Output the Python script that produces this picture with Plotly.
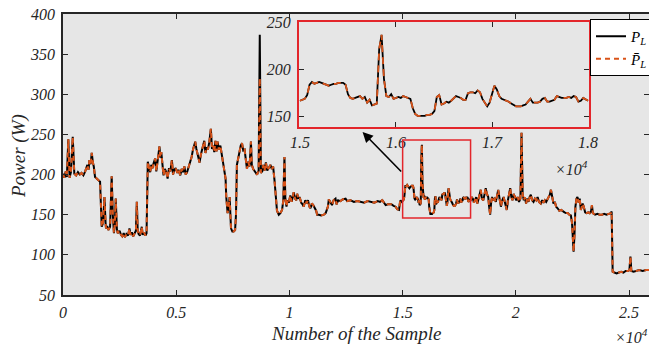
import plotly.graph_objects as go

# ---------------- data ----------------
# main series, part A (sample index, power W)
S_A = [0,60,120,170,235,290,350,430,500,580,660,740,820,900,980,1040,1075,1130,1165,1220,1270,1320,1360,1415,1500,1560,1637,1690,1710,1770,1830,1880,1900,1950,2000,2080,2150,2200,2250,2290,2330,2380,2420,2500,2560,2620,2680,2740,2800,2870,2935,2980,3040,3100,3160,3220,3260,3300,3340,3400,3480,3520,3580,3640,3690,3745,3800,3850,3900,3950,4000,4070,4120,4180,4220,4260,4300,4340,4400,4440,4500,4560,4620,4680,4740,4810,4860,4920,4980,5050,5100,5180,5240,5300,5360,5420,5480,5560,5620,5680,5740,5790,5840,5890,5940,6030,6090,6140,6200,6240,6290,6350,6400,6460,6530,6580,6630,6680,6730,6780,6830,6880,6950,7000,7065,7130,7180,7210,7270,7320,7360,7400,7420,7480,7535,7600,7640,7680,7740,7800,7850,7905,7960,8020,8080,8125,8180,8240,8300,8340,8400,8470,8520,8570,8640,8690,8740,8800,8850,8900,8960,9020,9080,9160,9220,9280,9340,9400,9450,9530,9600,9675,9730,9780,9820,9870,9920,9970,10040,10100,10190,10250,10300,10340,10400,10450,10520,10580,10630,10700,10760,10820,10880,10930,10990,11050,11120,11180,11225,11300,11400,11520,11600,11700,11740,11800,11880,11950,12035,12080,12150,12250,12350,12480,12550,12700,12850,13000,13150,13300,13450,13600,13750,13900,14000,14100,14200,14250,14350,14500,14600,14690,14760,14840,14880,14910,14960]
P_A = [201,196,204,197,244,196,203,247,201,199,203,200,202,199,204,208,212,206,218,213,227,215,210,197,195,194,191,150,135,140,172,140,133,136,131,135,198,150,127,140,170,132,127,130,125,123,127,122,126,124,133,125,128,123,126,130,166,130,126,124,135,125,128,124,127,216,208,203,212,208,214,220,204,222,226,235,221,228,210,199,207,203,195,208,204,218,200,206,208,202,206,199,207,203,210,200,203,210,216,222,231,236,241,232,225,215,225,232,238,242,227,234,231,240,257,232,236,228,242,229,241,231,236,226,218,204,195,172,152,162,172,145,133,129,129,131,150,212,222,229,236,239,230,231,215,207,216,210,241,212,207,204,202,200,205,374,202,204,212,205,215,205,208,212,207,210,193,165,155,150,152,156,168,222,170,160,168,165,174,166,178,170,168,176,170,172,165,163,160,168,164,168,160,158,164,162,158,155,150,150,149,150,152,160,169,166,162,168,170,163,168,167,169,170,167,168,166,167,166,165,167,166,165,167,166,168,164,162,163,163,161,160,157,156,165,168,166]

# zoomed window 1.5e4 .. 1.8e4 (every 25 samples)
S_FINE = list(range(15000, 18001, 25))
P_FINE = [167,168,169,173,184,187,185,186,187,186,185,184,183,184,185,185,186,186,186,184,
          174,170,169,170,171,172,169,171,165,168,162,163,164,222,237,190,172,171,174,169,
          170,171,170,172,171,170,169,159,153,151,151,151,151,152,152,153,156,171,173,163,
          164,166,165,167,169,172,171,170,168,168,175,176,176,175,178,176,169,165,161,165,
          174,183,179,172,169,168,167,166,164,162,161,161,161,162,163,166,169,165,165,165,
          166,169,170,166,166,167,168,172,171,170,170,170,171,170,172,171,166,167,170,168,167]

# main series, part B
S_B = [18050,18100,18150,18200,18250,18300,18370,18450,18500,18560,18620,18670,18720,18780,18820,18865,18910,18950,19000,19060,19115,19170,19220,19280,19340,19400,19460,19520,19560,19600,19650,19700,19750,19800,19850,19900,19960,20020,20080,20140,20200,20250,20300,20350,20400,20450,20500,20560,20610,20660,20720,20780,20840,20900,20960,21020,21100,21160,21220,21280,21340,21400,21460,21500,21550,21600,21660,21720,21780,21845,21920,22000,22080,22150,22220,22290,22360,22430,22480,22520,22550,22590,22630,22680,22720,22770,22820,22870,22950,23000,23060,23120,23200,23260,23320,23360,23400,23500,23600,23700,23800,23900,24000,24100,24200,24230,24275,24350,24450,24550,24650,24750,24850,24950,25015,25060,25100,25200,25300,25450,25600,25750,25900,26000]
P_B = [172,170,165,170,172,164,172,181,170,168,176,183,176,172,160,150,166,172,168,170,166,174,181,170,160,168,172,165,160,156,168,175,183,172,168,176,172,168,172,166,170,252,176,168,172,164,170,166,172,175,168,166,170,168,172,166,164,168,165,168,166,170,172,175,181,170,164,166,160,158,155,156,154,153,152,152,150,149,140,115,104,125,160,170,172,165,170,156,164,160,153,152,153,152,154,162,152,150,151,150,150,151,150,151,152,154,79,78,77,78,79,78,80,80,81,98,80,79,80,81,80,81,81,80]

# estimate differs visibly only at the big spike
EST_OVERRIDE = {8690: 320}

X_TICKS = [0, 5000, 10000, 15000, 20000, 25000]
X_TICK_TEXT = ["0", "0.5", "1", "1.5", "2", "2.5"]
Y_TICKS = [50, 100, 150, 200, 250, 300, 350, 400]
INSET_X_TICKS = [15000, 16000, 17000, 18000]
INSET_X_TEXT = ["1.5", "1.6", "1.7", "1.8"]
INSET_Y_TICKS = [150, 200, 250]

assert len(S_A) == len(P_A) and len(S_B) == len(P_B) and len(S_FINE) == len(P_FINE)

S_MAIN = S_A + S_FINE + S_B
P_MAIN = P_A + P_FINE + P_B
P_EST = [EST_OVERRIDE.get(s, p) for s, p in zip(S_MAIN, P_MAIN)]

# ---------------- style ----------------
FONT = "Liberation Serif"
ORANGE = "#D95319"
RED = "#E3262B"
AX = "#262626"
BG = "#E6E6E6"
W, H = 649, 349
L, R, T, B = 63, 0, 14, 54
PW, PH = W - L - R, H - T - B


def px(x):
    return (x - L) / PW


def py(y):
    return (H - B - y) / PH


tf = dict(family=FONT, size=16, color=AX, style="italic")

fig = go.Figure()
fig.add_trace(go.Scatter(x=S_MAIN, y=P_MAIN, mode="lines",
                         line=dict(color="black", width=2),
                         name="<i>P<sub>L</sub></i>"))
fig.add_trace(go.Scatter(x=S_MAIN, y=P_EST, mode="lines",
                         line=dict(color=ORANGE, width=2, dash="5px,4px"),
                         name="<i>P\u0304<sub>L</sub></i>"))
fig.add_trace(go.Scatter(x=[None], y=[None], yaxis="y2", showlegend=False,
                         hoverinfo="skip"))
fig.add_trace(go.Scatter(x=S_FINE, y=P_FINE, mode="lines", xaxis="x2", yaxis="y3",
                         line=dict(color="black", width=1.8), showlegend=False))
fig.add_trace(go.Scatter(x=S_FINE, y=P_FINE, mode="lines", xaxis="x2", yaxis="y3",
                         line=dict(color=ORANGE, width=1.8, dash="7px,5px"),
                         showlegend=False))

axis_common = dict(ticks="inside", ticklen=5, tickcolor=AX, showgrid=False,
                   zeroline=False, tickfont=tf)


def note(text, x, y, size=16, angle=0):
    return dict(text=text, xref="paper", yref="paper", x=px(x), y=py(y),
                xanchor="center", yanchor="middle", showarrow=False, textangle=angle,
                font=dict(family=FONT, size=size, color=AX, style="italic"))


fig.update_layout(
    width=W, height=H,
    margin=dict(l=L, r=R, t=T, b=B, autoexpand=False),
    paper_bgcolor="white", plot_bgcolor=BG,
    xaxis=dict(domain=[0, 1], range=[0, 25880], tickvals=X_TICKS, ticktext=X_TICK_TEXT,
               showline=True, linecolor=AX, linewidth=1.5, mirror="ticks",
               ticklabelstandoff=2, **axis_common),
    yaxis=dict(domain=[0, 1], range=[50, 400], tickvals=Y_TICKS,
               showline=True, linecolor=AX, linewidth=1.5, mirror=False,
               ticklabelstandoff=3, **axis_common),
    yaxis2=dict(overlaying="y", side="right", anchor="x", range=[50, 400],
                tickvals=Y_TICKS, showticklabels=False, showline=False,
                ticks="inside", ticklen=5, tickcolor=AX, showgrid=False, zeroline=False),
    xaxis2=dict(domain=[px(299), px(589)], anchor="y3", range=[14990, 18010],
                tickvals=INSET_X_TICKS, ticktext=INSET_X_TEXT,
                showline=True, linecolor=RED, linewidth=2, mirror="ticks",
                ticklabelstandoff=0, **axis_common),
    yaxis3=dict(domain=[py(126.7), py(22.3)], anchor="x2", range=[139.4, 250.4],
                tickvals=INSET_Y_TICKS,
                showline=True, linecolor=RED, linewidth=2, mirror="ticks",
                ticklabelstandoff=3, **axis_common),
    legend=dict(x=px(590), y=py(19), xanchor="left", yanchor="top",
                bgcolor="white", bordercolor="black", borderwidth=1,
                font=dict(family=FONT, size=15, color="black"), tracegroupgap=0),
    shapes=[dict(type="rect", xref="x", yref="y", x0=15000, x1=18000, y0=146, y1=243,
                 line=dict(color=RED, width=1.5))],
    annotations=[
        note("Number of the Sample", 356, 333, size=19),
        note("Power (W)", 19, 156, size=19, angle=-90),
        note("×10<sup>4</sup>", 631, 336),
        note("×10<sup>4</sup>", 571, 168),
        dict(text="", xref="x", yref="y", x=13230, y=253, axref="x", ayref="y",
             ax=15000, ay=202, showarrow=True, arrowhead=2, arrowsize=1.3,
             arrowwidth=1.6, arrowcolor="black"),
    ],
)

fig.write_html("out.html")
